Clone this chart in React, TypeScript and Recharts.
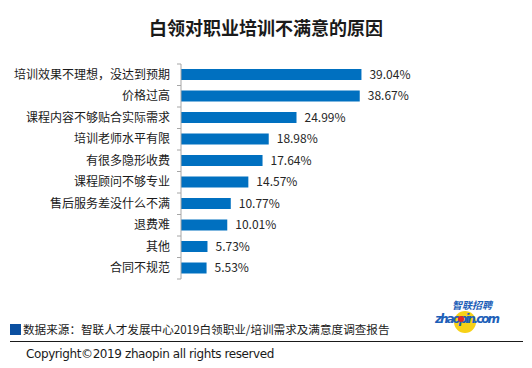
import { BarChart, Bar, XAxis, YAxis, LabelList } from "recharts";

const reasons = [
  "培训效果不理想，没达到预期",
  "价格过高",
  "课程内容不够贴合实际需求",
  "培训老师水平有限",
  "有很多隐形收费",
  "课程顾问不够专业",
  "售后服务差没什么不满",
  "退费难",
  "其他",
  "合同不规范",
];

const shares = [39.04, 38.67, 24.99, 18.98, 17.64, 14.57, 10.77, 10.01, 5.73, 5.53];

const data = reasons.map((name, i) => ({ name, value: shares[i] }));

const FONT = '"Noto Sans CJK SC", "Noto Sans", sans-serif';
const BLUE = "#0070C0";
const AXIS_X = 181;
const PLOT_TOP = 64;
const PLOT_H = 215;
const band = PLOT_H / data.length;

function ReasonTick(props: any) {
  const { y, payload, index } = props;
  return (
    <g>
      <line x1={AXIS_X - 4} x2={AXIS_X} y1={y - band / 2} y2={y - band / 2} stroke="#a6a6a6" />
      {index === data.length - 1 && (
        <line x1={AXIS_X - 4} x2={AXIS_X} y1={y + band / 2} y2={y + band / 2} stroke="#a6a6a6" />
      )}
      <text
        x={AXIS_X - 11}
        y={y}
        dy={4}
        textAnchor="end"
        fontSize={12}
        fill="#1a1a1a"
        fontFamily={FONT}
      >
        {payload.value}
      </text>
    </g>
  );
}

export default function App() {
  return (
    <div
      style={{
        position: "absolute",
        left: 0,
        top: 0,
        width: 532,
        height: 368,
        background: "#fff",
        fontFamily: FONT,
      }}
    >
      <div
        style={{
          position: "absolute",
          top: 15,
          left: 0,
          width: 532,
          textAlign: "center",
          fontSize: 18,
          fontWeight: 700,
          color: "#1a1a1a",
          lineHeight: "24px",
        }}
      >
        白领对职业培训不满意的原因
      </div>

      <div style={{ position: "absolute", left: 0, top: 0 }}>
        <BarChart
          width={532}
          height={PLOT_TOP + PLOT_H + 10}
          data={data}
          layout="vertical"
          margin={{ top: PLOT_TOP, right: 143, bottom: 10, left: 0 }}
        >
          <XAxis type="number" domain={[0, 45]} hide />
          <YAxis
            type="category"
            dataKey="name"
            width={AXIS_X}
            tickLine={false}
            axisLine={{ stroke: "#a6a6a6" }}
            tick={<ReasonTick />}
            interval={0}
          />
          <Bar dataKey="value" fill={BLUE} barSize={11} isAnimationActive={false}>
            <LabelList
              dataKey="value"
              position="right"
              offset={8}
              fontSize={12}
              fill="#262626"
              fontFamily={FONT}
              formatter={(v: any) => `${Number(v).toFixed(2)}%`}
            />
          </Bar>
        </BarChart>
      </div>

      {/* logo */}
      <svg
        width={100}
        height={45}
        style={{ position: "absolute", left: 420, top: 295 }}
      >
        <circle cx={45} cy={27} r={11} fill="#f7d117" />
        <text
          x={72}
          y={14}
          textAnchor="end"
          fontSize={10}
          fontWeight={700}
          fontStyle="italic"
          fill="#1d5fb8"
          fontFamily={FONT}
        >
          智联招聘
        </text>
        <text
          x={15}
          y={28}
          fontSize={12}
          fontWeight={700}
          fontStyle="italic"
          fill="#1d5fb8"
          fontFamily='"DejaVu Sans", sans-serif'
          textLength={65}
        >
          zhaopin.com
        </text>
        <circle cx={41} cy={24} r={3} fill="#e0242b" />
      </svg>

      <div
        style={{
          position: "absolute",
          left: 10,
          top: 324,
          width: 11,
          height: 11,
          background: "#0b4fa0",
        }}
      />
      <div
        style={{
          position: "absolute",
          left: 23,
          top: 321,
          fontSize: 11.6,
          color: "#1a1a1a",
          lineHeight: "16px",
          whiteSpace: "nowrap",
        }}
      >
        数据来源：智联人才发展中心2019白领职业/培训需求及满意度调查报告
      </div>
      <div
        style={{
          position: "absolute",
          left: 10,
          top: 341,
          width: 513,
          height: 1,
          background: "#1a1a1a",
        }}
      />
      <div
        style={{
          position: "absolute",
          left: 26,
          top: 346,
          fontSize: 12,
          color: "#1a1a1a",
          lineHeight: "16px",
          whiteSpace: "nowrap",
          fontFamily: '"DejaVu Sans", sans-serif',
          letterSpacing: "-0.4px",
        }}
      >
        Copyright©2019 zhaopin all rights reserved
      </div>
    </div>
  );
}
